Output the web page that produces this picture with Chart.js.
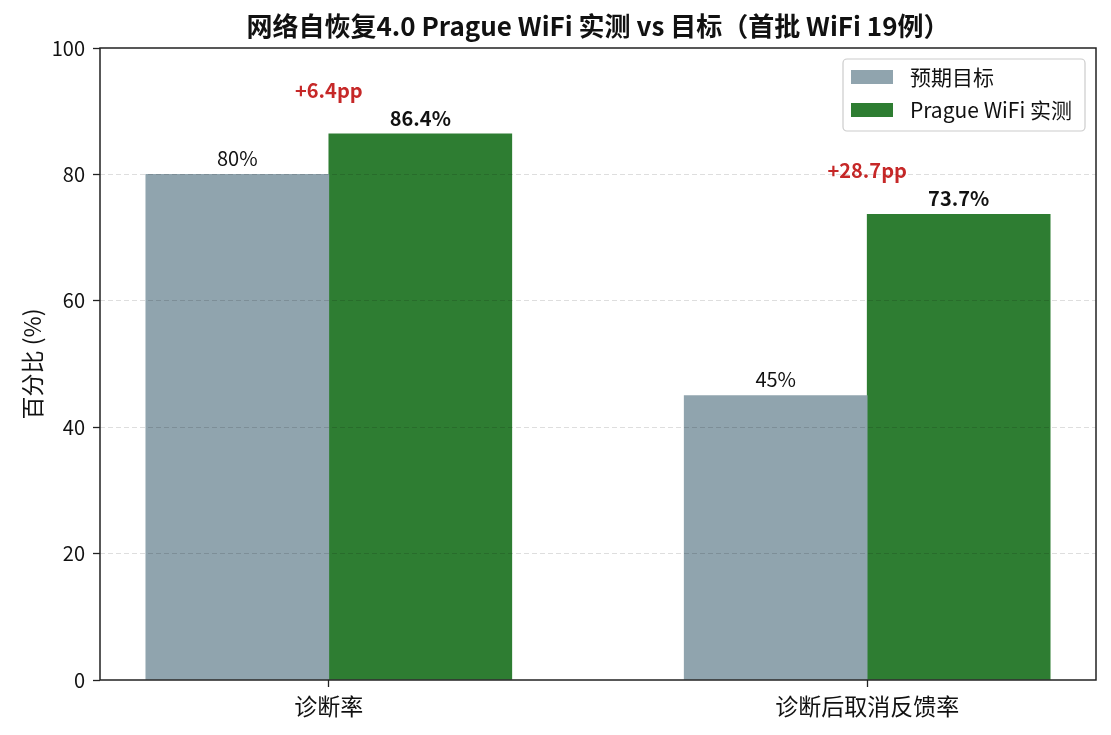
<!DOCTYPE html>
<html>
<head>
<meta charset="utf-8">
<script src="https://cdn.jsdelivr.net/npm/chart.js@4/dist/chart.umd.min.js"></script>
<style>
  html, body { margin: 0; padding: 0; background: #fff; }
  #wrap { width: 1111px; height: 735px; }
</style>
</head>
<body>
<div id="wrap"><canvas id="chart"></canvas></div>
<script>
'use strict';

const categories = ['诊断率', '诊断后取消反馈率'];
const targetVals = [80, 45];
const actualVals = [86.4, 73.7];
const targetLabels = ['80%', '45%'];
const actualLabels = ['86.4%', '73.7%'];
const diffLabels = ['+6.4pp', '+28.7pp'];
const seriesNames = ['预期目标', 'Prague WiFi 实测'];
const seriesColors = ['#90a4ae', '#2e7d32'];
const yTicks = [0, 20, 40, 60, 80, 100];

const FONT = '"Noto Sans CJK SC", "Noto Sans", sans-serif';
const INK = '#111';
Chart.defaults.font.family = FONT;
Chart.defaults.color = INK;

// value labels above bars + red difference labels
const barLabels = {
  id: 'barLabels',
  afterDatasetsDraw(chart) {
    const ctx = chart.ctx;
    const xs = chart.scales.x, ys = chart.scales.y;
    ctx.save();
    ctx.textAlign = 'center';
    ctx.textBaseline = 'bottom';
    [targetLabels, actualLabels].forEach((labels, di) => {
      const meta = chart.getDatasetMeta(di);
      ctx.font = (di === 1 ? 'bold ' : '') + '20px ' + FONT;
      ctx.fillStyle = INK;
      meta.data.forEach((bar, i) => ctx.fillText(labels[i], bar.x, bar.y - 6));
    });
    ctx.font = 'bold 20px ' + FONT;
    ctx.fillStyle = '#c62828';
    ctx.textBaseline = 'middle';
    diffLabels.forEach((t, i) => {
      ctx.fillText(t, xs.getPixelForValue(i), ys.getPixelForValue(actualVals[i] + 6.9));
    });
    ctx.restore();
  }
};

// full axes frame + legend box inside the plot
const frameLegend = {
  id: 'frameLegend',
  afterDraw(chart) {
    const ctx = chart.ctx, a = chart.chartArea;
    ctx.save();
    ctx.strokeStyle = '#222';
    ctx.lineWidth = 1.5;
    ctx.strokeRect(a.left, a.top, a.right - a.left, a.bottom - a.top);

    const bx = a.right - 253, by = a.top + 11, bw = 242, bh = 72;
    ctx.fillStyle = 'rgba(255,255,255,0.85)';
    ctx.strokeStyle = '#cccccc';
    ctx.lineWidth = 1.2;
    ctx.beginPath();
    ctx.roundRect(bx, by, bw, bh, 4);
    ctx.fill(); ctx.stroke();
    ctx.font = '21px ' + FONT;
    ctx.textAlign = 'left';
    ctx.textBaseline = 'middle';
    chart.data.datasets.forEach((ds, i) => {
      const cy = by + 18 + i * 33;
      ctx.fillStyle = ds.backgroundColor;
      ctx.fillRect(bx + 8, cy - 7, 42, 14);
      ctx.fillStyle = INK;
      ctx.fillText(ds.label, bx + 67, cy);
    });
    ctx.restore();
  }
};

new Chart(document.getElementById('chart'), {
  type: 'bar',
  data: {
    datasets: [
      { label: seriesNames[0], data: targetVals.map((v, i) => ({ x: i, y: v })), backgroundColor: seriesColors[0] },
      { label: seriesNames[1], data: actualVals.map((v, i) => ({ x: i, y: v })), backgroundColor: seriesColors[1] }
    ]
  },
  options: {
    responsive: true,
    maintainAspectRatio: false,
    animation: false,
    barThickness: 183,
    layout: { padding: { left: 0, right: 15, top: 0, bottom: 0 } },
    plugins: {
      legend: { display: false },
      tooltip: { enabled: false },
      title: {
        display: true,
        fullSize: false,
        text: '网络自恢复4.0 Prague WiFi 实测 vs 目标（首批 WiFi 19例）',
        font: { size: 26, weight: 'bold', lineHeight: 1.2 },
        color: INK,
        padding: { top: 11, bottom: 5.8 }
      }
    },
    scales: {
      x: {
        type: 'linear',
        offset: false,
        min: -0.425,
        max: 1.425,
        afterBuildTicks: s => { s.ticks = categories.map((_, i) => ({ value: i })); },
        afterFit: s => { s.height = 55; },
        ticks: { callback: v => categories[v], font: { size: 23 }, color: INK, padding: 5, maxRotation: 0 },
        grid: { offset: false, drawOnChartArea: false, tickLength: 7, tickColor: '#222', tickWidth: 1.3 },
        border: { display: false }
      },
      y: {
        min: 0,
        max: 100,
        afterBuildTicks: s => { s.ticks = yTicks.map(v => ({ value: v })); },
        afterFit: s => { s.width = 100; },
        ticks: { font: { size: 20 }, color: INK, padding: 8 },
        grid: {
          z: 1,
          color: c => (c.tick && (c.tick.value === 0 || c.tick.value === 100)) ? 'rgba(0,0,0,0)' : 'rgba(0,0,0,0.13)',
          lineWidth: 1,
          tickLength: 7,
          tickColor: '#222',
          tickWidth: 1.3
        },
        border: { display: false, dash: [5, 3] },
        title: { display: true, text: '百分比 (%)', font: { size: 23 }, color: INK, padding: { top: 18, bottom: 0 } }
      }
    }
  },
  plugins: [barLabels, frameLegend]
});
</script>
</body>
</html>
